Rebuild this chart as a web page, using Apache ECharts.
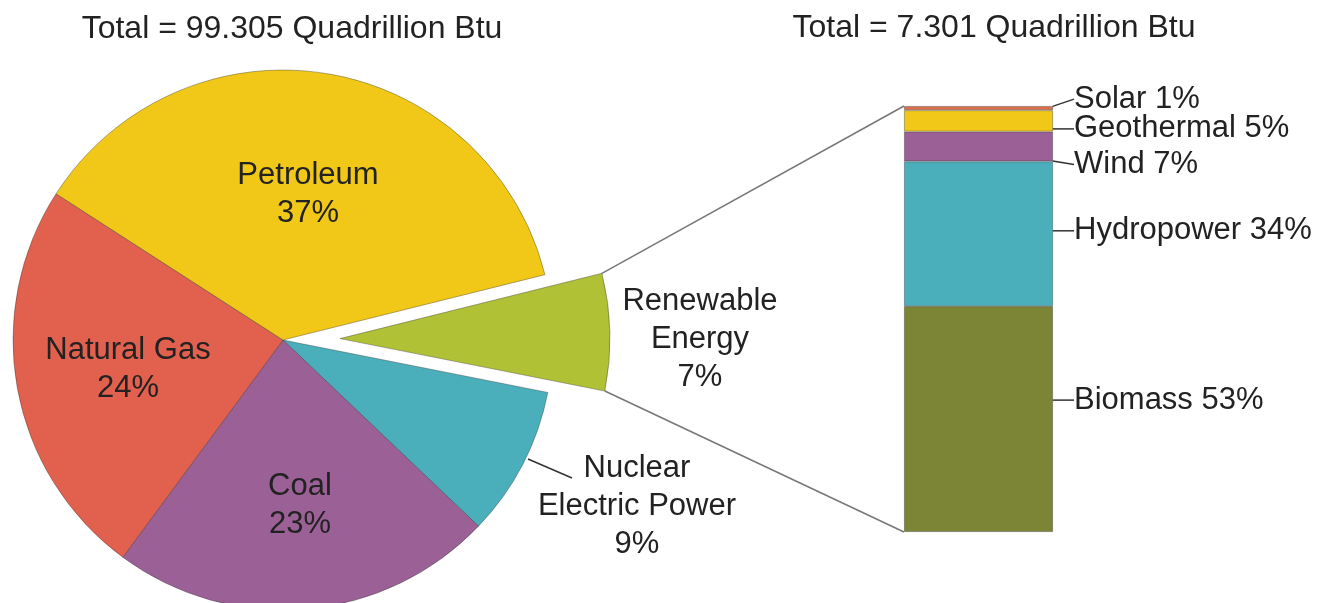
<!DOCTYPE html>
<html>
<head>
<meta charset="UTF-8">
<title>Energy consumption by source</title>
<script src="https://cdn.jsdelivr.net/npm/echarts@6/dist/echarts.min.js"></script>
</head>
<body style="margin:0">
<div id="container" style="width:1317px;height:603px"></div>
<script>
// energy sources, clockwise from the exploded renewable slice
var sources = ['Renewable Energy', 'Nuclear Electric Power', 'Coal', 'Natural Gas', 'Petroleum'];
var sourceLabels = ['Renewable\nEnergy', 'Nuclear\nElectric Power', 'Coal', 'Natural Gas', 'Petroleum'];
var sourceShares = [7, 9, 23, 24, 37];
var sourceColors = ['#b1c136', '#4aafbb', '#9b6196', '#e2604e', '#f1c818'];

// renewable breakdown, bottom to top
var renewables = ['Biomass', 'Hydropower', 'Wind', 'Geothermal', 'Solar'];
var renewableShares = [53, 34, 7, 5, 1];
var renewableColors = ['#7c8435', '#4aafbb', '#9b6196', '#f1c818', '#db6f4c'];

var totals = ['Total = 99.305 Quadrillion Btu', 'Total = 7.301 Quadrillion Btu'];

var FONT = '"Liberation Sans", Arial, sans-serif';
var pieCx = 283, pieCy = 340, pieR = 270, explode = 57, startAngle = 14;
var barGrid = { left: 904, top: 106, width: 149, height: 426 };

// where the pie labels sit (block centres)
var pieLabelPos = [[700, 339], [637, 506], [300, 505], [128, 369], [308, 194]];
// bar labels are nudged from the segment middle
var barLabelShift = [-19, -3, 18, 8, -9];

var dom = document.getElementById('container');
var myChart = echarts.init(dom);

// the renewable slice is pulled out along its middle angle
var sum = sourceShares.reduce(function (a, b) { return a + b; }, 0);
var sweep = sourceShares[0] / sum * 360;
var rad = Math.PI / 180;
var midA = (startAngle - sweep / 2) * rad;
var ox = pieCx + explode * Math.cos(midA), oy = pieCy - explode * Math.sin(midA);
var a1 = startAngle * rad, a2 = (startAngle - sweep) * rad;
var p1 = [ox + pieR * Math.cos(a1), oy - pieR * Math.sin(a1)];
var p2 = [ox + pieR * Math.cos(a2), oy - pieR * Math.sin(a2)];

var border = { borderColor: 'rgba(40,40,40,0.45)', borderWidth: 0.8 };

// onlyFirst: true -> only the renewable slice drawn, false -> all but it
function pieItems(onlyFirst) {
    return sources.map(function (s, i) {
        var visible = onlyFirst ? i === 0 : i !== 0;
        return {
            name: s,
            value: sourceShares[i],
            itemStyle: visible ? { color: sourceColors[i], borderColor: border.borderColor, borderWidth: border.borderWidth }
                               : { color: 'rgba(0,0,0,0)', borderWidth: 0 },
            label: { show: visible, position: i === 1 ? 'outside' : 'inside' },
            labelLine: { show: visible && i === 1 }
        };
    });
}

function pieSeries(center, onlyFirst) {
    return {
        type: 'pie',
        center: center,
        radius: pieR,
        startAngle: startAngle,
        clockwise: true,
        data: pieItems(onlyFirst),
        emphasis: { disabled: true },
        silent: true,
        label: {
            fontFamily: FONT,
            fontSize: 31,
            lineHeight: 38,
            color: '#222',
            align: 'center',
            formatter: function (p) {
                return sourceLabels[p.dataIndex] + '\n' + p.value + '%';
            }
        },
        labelLine: { lineStyle: { color: '#333', width: 1.5 } },
        labelLayout: function (params) {
            var pos = pieLabelPos[params.dataIndex];
            var out = { x: pos[0], y: pos[1], align: 'center', verticalAlign: 'middle' };
            if (params.dataIndex === 1) {
                out.labelLinePoints = [[528, 459], [572, 478]];
            }
            return out;
        }
    };
}

var barSeries = renewables.map(function (r, i) {
    return {
        name: r,
        type: 'bar',
        stack: 'renew',
        barWidth: '100%',
        data: [renewableShares[i]],
        itemStyle: { color: renewableColors[i], borderColor: border.borderColor, borderWidth: border.borderWidth },
        label: {
            show: true,
            position: 'right',
            distance: 20,
            formatter: r + ' ' + renewableShares[i] + '%',
            fontFamily: FONT,
            fontSize: 31,
            color: '#222'
        },
        labelLine: { show: true, lineStyle: { color: '#333', width: 1.5 } },
        labelLayout: function (params) {
            var rc = params.rect;
            var edge = rc.x + rc.width;
            var ly = rc.y + rc.height / 2 + barLabelShift[i];
            var sy = Math.min(Math.max(ly, rc.y), rc.y + rc.height);
            return {
                x: edge + 21,
                y: ly,
                align: 'left',
                verticalAlign: 'middle',
                labelLinePoints: [[edge, sy], [edge + 14, ly]]
            };
        },
        emphasis: { disabled: true }
    };
});

option = {
    animation: false,
    graphic: [
        {
            type: 'text', x: 292, y: 29,
            style: { text: totals[0], font: '32px ' + FONT, fill: '#222', align: 'center', verticalAlign: 'middle' }
        },
        {
            type: 'text', x: 994, y: 28,
            style: { text: totals[1], font: '32px ' + FONT, fill: '#222', align: 'center', verticalAlign: 'middle' }
        },
        {
            type: 'line',
            shape: { x1: p1[0], y1: p1[1], x2: barGrid.left, y2: barGrid.top },
            style: { stroke: '#777', lineWidth: 1.5 }
        },
        {
            type: 'line',
            shape: { x1: p2[0], y1: p2[1], x2: barGrid.left, y2: barGrid.top + barGrid.height },
            style: { stroke: '#777', lineWidth: 1.5 }
        }
    ],
    grid: barGrid,
    xAxis: { type: 'category', data: ['Renewable'], show: false },
    yAxis: { type: 'value', min: 0, max: 100, show: false },
    series: [pieSeries([pieCx, pieCy], false), pieSeries([ox, oy], true)].concat(barSeries)
};

myChart.setOption(option);
</script>
</body>
</html>
